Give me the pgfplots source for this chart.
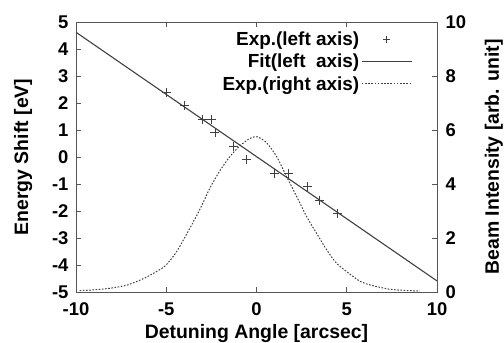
\documentclass[border=0pt]{standalone}
\usepackage{pgfplots}
\pgfplotsset{compat=1.18}
\usepackage{fontspec}
\setmainfont{Liberation Sans}
\definecolor{axgray}{HTML}{555555}
\definecolor{linegray}{HTML}{404040}
\begin{document}
\begin{tikzpicture}
\pgfplotsset{
  every axis/.append style={
    scale only axis, width=361bp, height=270bp,
    font=\fontsize{19.5}{22}\bfseries\selectfont,
    tick label style={font=\fontsize{18.5}{20}\bfseries\selectfont},
    /pgf/number format/assume math mode=true,
    tick style={axgray, line width=0.8pt},
    axis line style={axgray, line width=0.9pt},
    tick align=inside,
    major tick length=5bp,
  }
}
\begin{axis}[
  name=a,
  xmin=-10, xmax=10, ymin=-5, ymax=5,
  xtick={-10,-5,0,5,10}, xticklabels={-10,-5,0,5,10},
  ytick={-5,-4,-3,-2,-1,0,1,2,3,4,5},
  yticklabels={-5,-4,-3,-2,-1,0,1,2,3,4,5},
  xtick pos=both, ytick pos=left,
  xlabel={Detuning Angle [arcsec]},
  ylabel={Energy Shift [eV]},
  xticklabel style={yshift=-7bp},
  yticklabel style={xshift=-4bp},
  xlabel style={at={(axis description cs:0.5,0)}, anchor=north, yshift=-29bp},
  ylabel style={yshift=13bp},
]
\addplot[only marks, mark=+, mark size=4.5bp, linegray, line width=0.7pt] coordinates {
(-5,2.4) (-4,1.9) (-3,1.4) (-2.5,1.4) (-2.3,0.9) (-1.3,0.4) (-0.55,-0.1)
(1.0,-0.6) (1.75,-0.6) (2.8,-1.1) (3.5,-1.6) (4.5,-2.1)
};
\addplot[linegray, line width=1.1pt] coordinates {(-10,4.62) (10,-4.59)};
\end{axis}
\begin{axis}[
  xmin=-10, xmax=10, ymin=0, ymax=10,
  hide x axis,
  axis y line*=right,
  ytick={0,2,4,6,8,10}, yticklabels={0,2,4,6,8,10},
  ylabel={Beam Intensity [arb. unit]},
  yticklabel style={xshift=5bp},
  ylabel style={yshift=-12bp},
  legend cell align=right,
  legend plot pos=right,
  legend style={draw=none, fill=none, at={(0.935,0.975)}, anchor=north east,
    row sep=3bp, inner sep=1pt, font=\fontsize{19}{21}\bfseries\selectfont},
]
\addlegendimage{legend image code/.code={\draw[linegray, line width=0.7pt] plot[mark=+, mark size=3.5bp] coordinates {(31bp,0)};}}
\addlegendentry{Exp.(left axis)}
\addlegendimage{legend image code/.code={\draw[linegray, line width=1.1pt] (6bp,0) -- (56bp,0);}}
\addlegendentry{Fit(left\ \ axis)}
\addplot[linegray, line width=1pt, dash pattern=on 1.6pt off 1.6pt, smooth, tension=0.4,
  legend image code/.code={\draw[linegray, line width=1pt, dash pattern=on 1.6pt off 1.6pt] (6bp,0) -- (56bp,0);}]
coordinates {
(-9.8,0.05) (-9,0.08) (-8.1,0.14) (-7.2,0.25) (-6.45,0.44) (-5.9,0.62) (-5.07,0.96)
(-4.42,1.5) (-3.7,2.35) (-3.13,3.07) (-2.58,3.85) (-2.02,4.5) (-1.47,5.02) (-0.91,5.42)
(-0.36,5.69) (0.05,5.75) (0.57,5.52) (1.12,5.01) (1.67,4.27) (2.23,3.53) (2.78,2.79)
(3.33,2.17) (3.89,1.56) (4.44,1.06) (5.18,0.66) (5.73,0.4) (6.29,0.26) (7.4,0.1)
(8.5,0.05) (9.05,0.04)
};
\addlegendentry{Exp.(right axis)}
\end{axis}
\pgfresetboundingbox
\path ([xshift=-76bp,yshift=-51bp]a.south west) rectangle ([xshift=67bp,yshift=22bp]a.north east);
\end{tikzpicture}
\end{document}
